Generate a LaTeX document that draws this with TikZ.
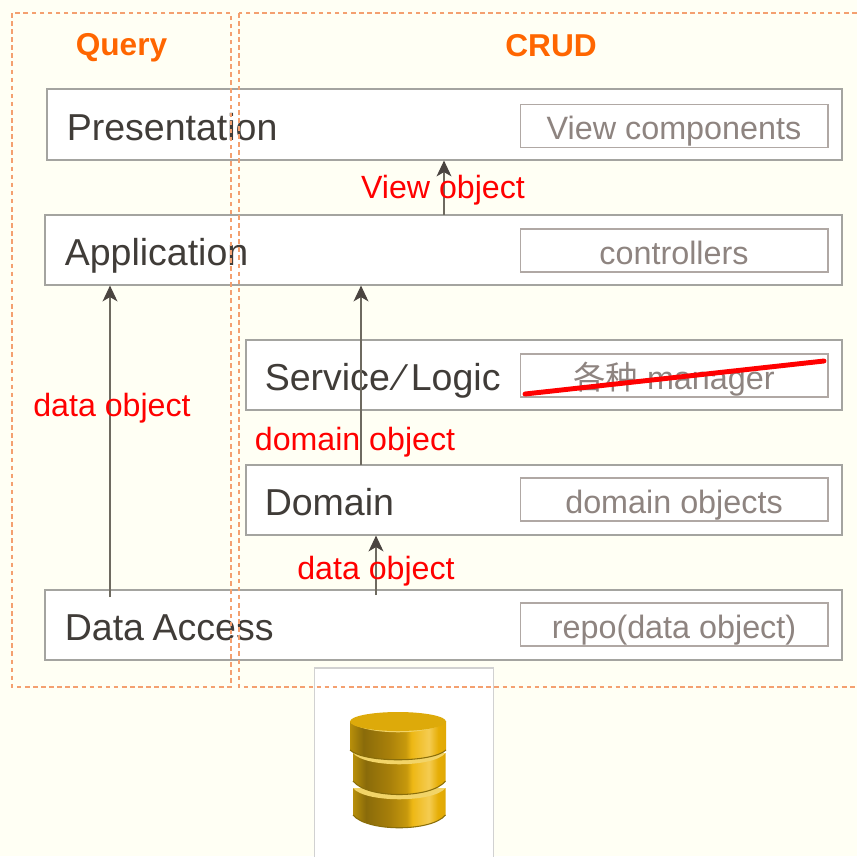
\documentclass[tikz,border=0pt]{standalone}
\usepackage{fontspec}
\usepackage{xcolor}
\usetikzlibrary{positioning,arrows.meta}
\setmainfont{Liberation Sans}
\newfontfamily\cjkfont{Noto Sans CJK SC}

\definecolor{pagecream}{HTML}{FFFFF4}
\definecolor{layerline}{HTML}{A4A4A0}
\definecolor{layerink}{HTML}{403C38}
\definecolor{subline}{HTML}{B0A8A4}
\definecolor{subink}{HTML}{8E8480}
\definecolor{zoneline}{HTML}{F4A070}
\definecolor{zoneink}{HTML}{FF6600}
\definecolor{flowline}{HTML}{6E6A60}
\definecolor{flowtip}{HTML}{4A4440}
\definecolor{goldtop}{HTML}{DDAA0A}
\definecolor{goldpale}{HTML}{F2D468}
\definecolor{golddark}{HTML}{8A6E0A}

\pgfdeclarehorizontalshading{golddisc}{100bp}{
  rgb(0bp)=(0.72,0.56,0.04); rgb(25bp)=(0.72,0.56,0.04); rgb(32bp)=(0.54,0.42,0.04);
  rgb(45bp)=(0.66,0.50,0.04); rgb(54bp)=(0.78,0.60,0.05); rgb(57bp)=(0.93,0.72,0.08);
  rgb(66bp)=(0.96,0.80,0.32); rgb(71bp)=(0.90,0.68,0.02); rgb(75bp)=(0.88,0.66,0.02);
  rgb(100bp)=(0.88,0.66,0.02)}

\tikzset{
  layer/.style={draw=layerline, fill=white, line width=0.7pt, inner sep=0pt},
  layername/.style={inner sep=0pt, text height=17.8pt, text depth=0pt, text=layerink,
    font=\fontsize{21.35}{24}\selectfont},
  sublayer/.style={draw=subline, fill=white, line width=0.6pt, inner sep=0pt,
    minimum width=6.16cm, minimum height=0.86cm, text height=15.6pt, text depth=0pt,
    text=subink, font=\fontsize{18.4}{22}\selectfont},
  zone/.style={draw=zoneline, line width=0.8pt, dash pattern=on 2.6pt off 2pt},
  zonetitle/.style={inner sep=0pt, text height=13pt, text depth=0pt, text=zoneink,
    font=\fontsize{18}{22}\selectfont\bfseries},
  flow/.style={draw=flowline, line width=0.6pt,
    -{Stealth[length=9pt,width=8.5pt,inset=2.5pt,color=flowtip]}},
  flowlabel/.style={inner sep=0pt, text height=12.8pt, text depth=0pt, text=red,
    font=\fontsize{18.3}{22}\selectfont},
  disc/.style={shading=golddisc}
}

\begin{document}
\begin{tikzpicture}[x=0.02cm,y=-0.02cm]
    \useasboundingbox (0,0) rectangle (857,856);
    \fill [pagecream] (0,0) rectangle (857,856);

    % Database picture
    \draw [draw=black!18, fill=white, line width=0.6pt] (314.5,668) rectangle (493.5,870);
    \foreach \xl/\xr/\yedge/\yside/\ybot in {353/445.5/788/815/828, 353/445.5/753/781/795, 350/446/721/750/759} {
        \path [disc] (\xl,\yedge) -- (\xl,\yside) .. controls (\xl+14,\ybot+4) and (\xr-14,\ybot+4) .. (\xr,\yside) -- (\xr,\yedge) -- cycle;
        \fill [goldpale] (\xl,\yedge) .. controls (\xl+12,\yedge+15) and (\xr-12,\yedge+15) .. (\xr,\yedge) -- cycle;
        \draw [golddark, line width=0.6pt] (\xl,\yside) .. controls (\xl+14,\ybot+4) and (\xr-14,\ybot+4) .. (\xr,\yside);
    }
    \fill [goldtop] (398,721.5) ellipse [x radius=48, y radius=9.5];

    % Layers
    \node [layer, minimum width=15.9cm, minimum height=1.42cm] (presentation) at (444.5,124.5) {};
    \node [layer, minimum width=15.94cm, minimum height=1.4cm] (application) at (443.5,250) {};
    \node [layer, minimum width=11.92cm, minimum height=1.4cm] (service) at (544,375) {};
    \node [layer, minimum width=11.92cm, minimum height=1.4cm] (domain) at (544,500) {};
    \node [layer, minimum width=15.94cm, minimum height=1.4cm] (access) at (443.5,625) {};

    \node [layername, right=0.4cm of presentation.west] (presentationname) {Presentation};
    \node [layername, right=0.4cm of application.west] (applicationname) {Application};
    \node [layername, right=0.38cm of service.west] (servicename) {Service\kern4.2pt⁄\kern4.2pt Logic};
    \node [layername, right=0.38cm of domain.west] (domainname) {Domain};
    \node [layername, right=0.4cm of access.west] (accessname) {Data\kern-1pt\ Access};

    \node [sublayer] (viewbox) at (674,126) {View components};
    \node [sublayer] (controllerbox) at (674,250.5) {controllers};
    \node [sublayer] (managerbox) at (674,375.5) {{\cjkfont 各种} manager};
    \node [sublayer] (domainbox) at (674,499.5) {domain objects};
    \node [sublayer] (repobox) at (674,624.5) {repo(data object)};

    % Query and CRUD zones
    \draw [zone] (12,13) rectangle (231,687);
    \draw [zone] (239,13) rectangle (880,687);
    \node [zonetitle] (querytitle) at (121.5,44) {Query};
    \node [zonetitle] (crudtitle) at (551,45) {CRUD};

    % Data flow
    \coordinate (queryflow) at (110,597);
    \coordinate (serviceflow) at (361,465);
    \coordinate (domainflow) at (376,595);
    \coordinate (viewflow) at (444,215);
    \draw [flow] (queryflow) -- (queryflow |- application.south);
    \draw [flow] (serviceflow) -- (serviceflow |- application.south);
    \draw [flow] (domainflow) -- (domainflow |- domain.south);
    \draw [flow] (viewflow) -- (viewflow |- presentation.south);

    \node [flowlabel] (viewlabel) at (443,187) {View object};
    \node [flowlabel] (querylabel) at (112,405) {data object};
    \node [flowlabel] (servicelabel) at (355,439) {domain object};
    \node [flowlabel] (domainlabel) at (376,568) {data object};

    % Crossed out manager
    \coordinate (strikestart) at (525,394);
    \coordinate (strikeend) at (824,361);
    \draw [red, line width=2.8pt, line cap=round] (strikestart) -- (strikeend);
\end{tikzpicture}
\end{document}
